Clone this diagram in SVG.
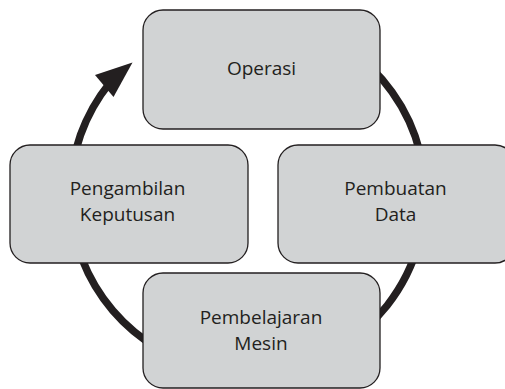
<svg xmlns="http://www.w3.org/2000/svg" width="505" height="389" viewBox="0 0 505 389">
<style>
.box{fill:#d1d3d4;stroke:#231f20;stroke-width:1.3}
.lbl{font-family:"Open Sans","Noto Sans",sans-serif;font-size:19px;fill:#231f20;text-anchor:middle}
.ring{fill:none;stroke:#231f20;stroke-width:7.5}
</style>
<rect width="505" height="389" fill="#ffffff"/>
<g id="connectors">
<path class="ring" d="M159,40.85 A178,178 0 0 1 337,349.15 A178,178 0 0 1 109.7,83"/>
<polygon points="132.5,62.5 95,75 113.5,97" fill="#231f20"/>
</g>
<g id="operasi">
<rect class="box" x="143" y="10" width="237" height="119" rx="20"/>
<text class="lbl" x="261.5" y="75">Operasi</text>
</g>
<g id="pengambilan">
<rect class="box" x="10" y="145" width="238" height="118" rx="20"/>
<text class="lbl" x="127.5" y="195">Pengambilan</text>
<text class="lbl" x="127.5" y="221">Keputusan</text>
</g>
<g id="pembuatan">
<rect class="box" x="278" y="145" width="237" height="118" rx="20"/>
<text class="lbl" x="395.5" y="195">Pembuatan</text>
<text class="lbl" x="395.5" y="221">Data</text>
</g>
<g id="pembelajaran">
<rect class="box" x="143" y="273" width="237" height="115" rx="20"/>
<text class="lbl" x="261" y="324">Pembelajaran</text>
<text class="lbl" x="261" y="349.5">Mesin</text>
</g>
</svg>
